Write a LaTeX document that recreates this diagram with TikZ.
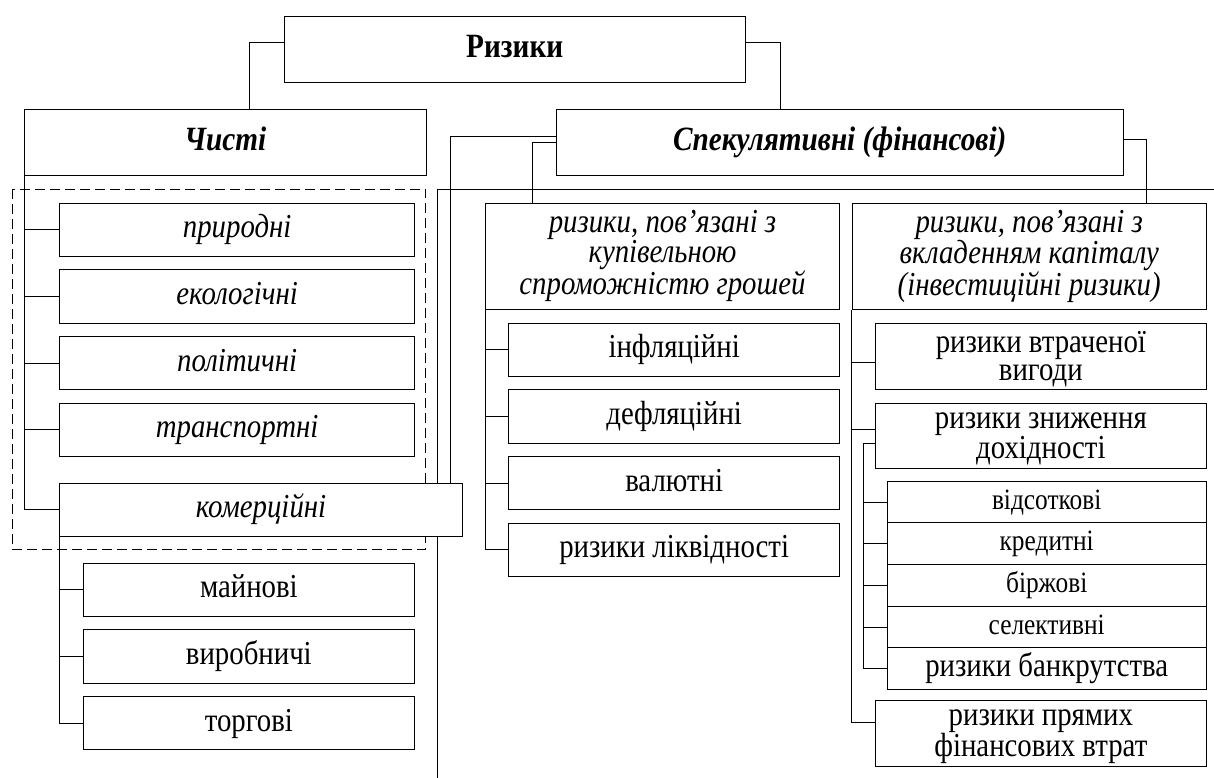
\documentclass[tikz,border=0pt]{standalone}
\usepackage{fontspec}
\setmainfont{Liberation Serif}[FakeStretch=0.86]
\begin{document}
\begin{tikzpicture}[x=1pt,y=-1pt,line width=1pt,
  box/.style={draw,fill=white,anchor=north west,inner sep=0pt,align=center},
  one/.style={text height=24pt,text depth=8pt},
  rg/.style={font=\fontsize{33.5}{28}\selectfont},
  itx/.style={font=\fontsize{33.5}{27}\selectfont\itshape},
  sm/.style={font=\fontsize{29.5}{26}\selectfont,text height=21pt,text depth=7pt},
  hd/.style={font=\fontsize{34}{34}\selectfont\bfseries\itshape,one},
  two/.style={text depth=1pt},
  dashbox/.style={dash pattern=on 10pt off 5pt}]
\useasboundingbox (0,0) rectangle (1214,778);
% free frame lines (behind boxes)
\draw[dashbox] (12.3,189) rectangle (425.7,549.3);
\draw (1214,189) -- (437.3,189) -- (437.3,778);
% top level
\node[box,font=\fontsize{34}{34}\selectfont\bfseries,one,minimum width=461pt,minimum height=66.3pt] (riz) at (283.7,15.7) {Ризики};
\node[box,hd,minimum width=401.7pt,minimum height=66.6pt] (chy) at (24,108.7) {Чисті};
\node[box,hd,minimum width=567pt,minimum height=66.6pt] (spek) at (555.7,108.7) {Спекулятивні (фінансові)};
% left column
\node[box,itx,one,minimum width=354.7pt,minimum height=53.3pt] (pryr) at (59.3,202.7) {природні};
\node[box,itx,one,minimum width=354.7pt,minimum height=53.3pt] (ekol) at (59.3,269.3) {екологічні};
\node[box,itx,one,minimum width=354.7pt,minimum height=53.3pt] (polit) at (59.3,336) {політичні};
\node[box,itx,one,minimum width=354.7pt,minimum height=53.3pt] (transp) at (59.3,402.7) {транспортні};
\node[box,itx,one,minimum width=402.4pt,minimum height=53.3pt] (komerc) at (59.3,482.7) {комерційні};
\node[box,rg,one,minimum width=331.3pt,minimum height=53.3pt] (majn) at (82.7,562.7) {майнові};
\node[box,rg,one,minimum width=331.3pt,minimum height=53.3pt] (vyrob) at (82.7,629.3) {виробничі};
\node[box,rg,one,minimum width=331.3pt,minimum height=53.3pt] (torg) at (82.7,696) {торгові};
% middle column
\node[box,itx,minimum width=354pt,minimum height=106pt] (kup) at (485,202.7) {ризики, пов’язані з\\купівельною\\спроможністю грошей};
\node[box,rg,one,minimum width=330.7pt,minimum height=53.3pt] (infl) at (508.3,322.7) {інфляційні};
\node[box,rg,one,minimum width=330.7pt,minimum height=53.3pt] (defl) at (508.3,389.3) {дефляційні};
\node[box,rg,one,minimum width=330.7pt,minimum height=53.3pt] (val) at (508.3,456) {валютні};
\node[box,rg,one,minimum width=330.7pt,minimum height=53.3pt] (likv) at (508.3,522.7) {ризики ліквідності};
% right column
\node[box,itx,minimum width=354pt,minimum height=106pt] (vkl) at (851.7,202.7) {ризики, пов’язані з\\вкладенням капіталу\\(інвестиційні ризики)};
\node[box,rg,two,minimum width=330.7pt,minimum height=66pt] (vtr) at (875,323.3) {ризики втраченої\\вигоди};
\node[box,rg,two,minimum width=330.7pt,minimum height=65.6pt] (znyzh) at (875,402.7) {ризики зниження\\дохідності};
\node[box,sm,minimum width=319pt,minimum height=41.6pt] (vids) at (886.7,480.7) {відсоткові};
\node[box,sm,minimum width=319pt,minimum height=41.7pt] (kred) at (886.7,522.3) {кредитні};
\node[box,sm,minimum width=319pt,minimum height=41.7pt] (birzh) at (886.7,564) {біржові};
\node[box,sm,minimum width=319pt,minimum height=41.6pt] (sel) at (886.7,605.7) {селективні};
\node[box,rg,one,minimum width=319pt,minimum height=42pt] (bankr) at (886.7,647.3) {ризики банкрутства};
\node[box,rg,two,minimum width=330.7pt,minimum height=66pt] (pryam) at (875,700) {ризики прямих\\фінансових втрат};
% connectors
\draw ([yshift=6.5pt]riz.west) -| ([xshift=24pt]chy.north);
\draw ([yshift=6.5pt]riz.east) -| ([xshift=-59.2pt]spek.north);
\draw ([yshift=6.3pt]spek.west) -| ([xshift=-12.7pt]komerc.north east);
\draw (spek.west) -| ([xshift=47.7pt]kup.north west);
\draw ([yshift=2.7pt]spek.east) -| ([xshift=-60.7pt]vkl.north east);
\draw (chy.south west) |- (komerc.west);
\foreach \n in {pryr,ekol,polit,transp} \draw (chy.south west |- \n.west) -- (\n.west);
\draw (komerc.south west) |- (torg.west);
\foreach \n in {majn,vyrob} \draw (komerc.south west |- \n.west) -- (\n.west);
\draw (kup.south west) |- (likv.west);
\foreach \n in {infl,defl,val} \draw (kup.south west |- \n.west) -- (\n.west);
\draw ([yshift=10.7pt]pryam.west) -| (vkl.south west);
\draw ([yshift=-5.7pt]vtr.west) -| (vkl.south west);
\draw ([yshift=6.8pt]znyzh.west) -| (vkl.south west);
\draw ([yshift=-7.8pt]znyzh.west) -| ([xshift=-23.4pt]bankr.west) -- (bankr.west);
\foreach \n in {vids,kred,birzh,sel} \draw ([xshift=-23.4pt]\n.west) -- (\n.west);
\end{tikzpicture}
\end{document}
